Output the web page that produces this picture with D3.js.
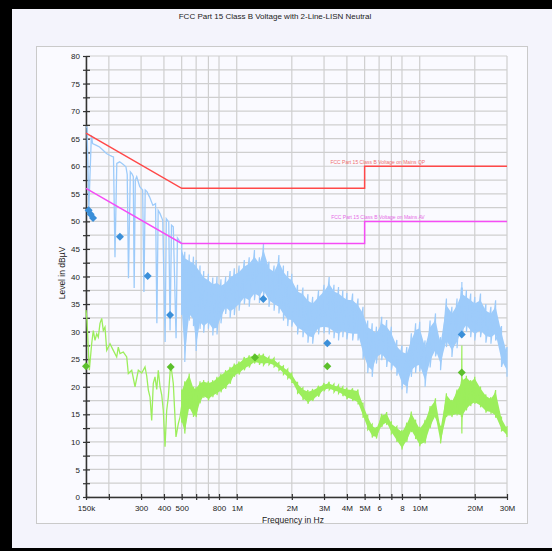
<!DOCTYPE html>
<html>
<head>
<meta charset="utf-8">
<script src="https://d3js.org/d3.v7.min.js"></script>
<style>
  body { margin: 0; background: #ffffff; }
  text { font-family: "Liberation Sans", Arial, sans-serif; }
</style>
</head>
<body>
<div id="chart"></div>
<script>
// frequencies are in MHz, levels in dBuV

var xTickFreqs = [0.15, 0.2, 0.3, 0.4, 0.5, 0.6, 0.7, 0.8, 1, 2, 3, 4, 5, 6, 7, 8, 10, 20, 30];
var xTickLabels = ["150k", "", "300", "400", "500", "", "", "800", "1M", "2M", "3M", "4M", "5M", "6", "", "8", "10M", "20M", "30M"];
var yTickValues = [0, 5, 10, 15, 20, 25, 30, 35, 40, 45, 50, 55, 60, 65, 70, 75, 80];

// limit lines
var qpFreq = [0.15, 0.5, 5, 5, 30];
var qpLevel = [66, 56, 56, 60, 60];
var avFreq = [0.15, 0.5, 5, 5, 30];
var avLevel = [56, 46, 46, 50, 50];

// peak trace below 500 kHz (single line with deep drop-outs)
var peakLowFreq = [0.150, 0.152, 0.1555, 0.1605, 0.163, 0.171, 0.178, 0.186, 0.194, 0.202, 0.208, 0.212, 0.216, 0.221,
  0.229, 0.238, 0.248, 0.252, 0.256, 0.262, 0.268, 0.272, 0.275, 0.279, 0.284, 0.295, 0.306, 0.311, 0.316, 0.323, 0.334,
  0.348, 0.360, 0.366, 0.372, 0.381, 0.394, 0.406, 0.412, 0.425, 0.432, 0.440, 0.450, 0.466, 0.474, 0.490, 0.500];
var peakLowLevel = [67.2, 67.0, 52.4, 65.6, 64.1, 63.8, 63.5, 62.9, 62.3, 62.0, 61.8, 61.7, 43.5, 60.5,
  60.8, 60.4, 59.9, 58.5, 39.7, 59.0, 58.6, 58.1, 37.9, 57.5, 58.1, 56.3, 55.7, 37.2, 55.7, 55.4, 54.4,
  52.9, 53.2, 31.5, 52.0, 51.4, 50.2, 28.1, 50.5, 49.9, 30.2, 49.3, 49.0, 28.8, 47.0, 46.3, 46.0];

// average trace below 500 kHz
var avgLowFreq = [0.150, 0.1519, 0.1564, 0.1611, 0.1644, 0.168, 0.1716, 0.1751, 0.1789, 0.1828, 0.1865, 0.1905, 0.1947,
  0.2029, 0.2115, 0.2207, 0.2252, 0.2301, 0.2399, 0.2504, 0.2555, 0.2667, 0.278, 0.2898, 0.3025, 0.3152, 0.322, 0.3287,
  0.3358, 0.3429, 0.3499, 0.3575, 0.3653, 0.3726, 0.3808, 0.3891, 0.3968, 0.4056, 0.4141, 0.4226, 0.4355, 0.45, 0.4655,
  0.4794, 0.4897, 0.500];
var avgLowLevel = [33.9, 32.0, 23.0, 27.8, 30.2, 28.4, 29.6, 29.0, 31.5, 32.4, 30.2, 30.8, 26.6,
  27.8, 26.6, 25.4, 27.2, 26.0, 26.3, 25.4, 22.4, 23.0, 20.0, 23.0, 22.5, 23.6, 22.0, 19.4,
  18.1, 13.9, 20.6, 21.8, 19.5, 23.0, 20.0, 18.5, 15.7, 9.1, 15.7, 18.1, 24.2, 20.6, 10.9,
  13.3, 14.5, 16.5];

// above 500 kHz both traces are dense sweeps: read as upper / lower edge of the band
var bandFreq = [0.5, 0.52, 0.55, 0.58, 0.6, 0.63, 0.66, 0.7, 0.74, 0.78, 0.82, 0.87, 0.92, 0.97, 1.03, 1.1, 1.17, 1.25,
  1.33, 1.4, 1.5, 1.6, 1.7, 1.8, 1.9, 2.0, 2.15, 2.3, 2.45, 2.6, 2.8, 3.0, 3.2, 3.4, 3.6, 3.8, 4.0, 4.3, 4.6, 4.9,
  5.2, 5.5, 5.8, 6.2, 6.6, 7.0, 7.5, 8.0, 8.5, 9.0, 9.5, 10, 10.7, 11.4, 12.2, 13, 14, 15, 16, 16.9, 17, 17.1, 18,
  19, 20, 21.5, 23, 24.5, 26, 28, 30];
var peakBandTop = [46, 44.5, 44, 43.6, 43, 42, 41, 40.5, 39.8, 40, 39.5, 40, 41, 41.5, 42, 43, 43.5, 44.8,
  43.5, 46, 42.7, 42, 43.9, 42, 41, 40.5, 38.5, 38, 36.8, 36.3, 37.5, 38.5, 39.9, 38.5, 38.1, 37.5, 37, 36.9, 36, 34.5,
  32, 31.5, 30.9, 32.7, 32.1, 30.9, 28.5, 27.5, 27.2, 29.7, 31.5, 31.8, 28.4, 32, 33.3, 29, 36, 34.5, 36, 38, 39, 38,
  37.5, 36.9, 36.3, 36.9, 35, 34.5, 35.7, 31, 27.2];
var peakBandBottom = [33, 24.5, 32, 31, 26.5, 30.5, 29.8, 30.5, 29.3, 29.5, 31.5, 33.2, 32.5, 33, 33.8, 35, 34.5, 35.7,
  35.2, 36.3, 34.5, 33.8, 33.3, 32, 31, 30.9, 29.5, 29, 28, 27.8, 29.5, 29.7, 29.5, 28.8, 28.4, 29, 28.6, 28.4, 28.4, 25,
  22.5, 21.8, 24.2, 24.8, 23.6, 23, 22, 19.5, 18.8, 21.8, 22.5, 22.8, 20, 23.5, 25.5, 23, 27.2, 25.4, 27, 29, 29, 29,
  30, 29, 28.4, 29, 28, 27.8, 28.4, 23.6, 21.8];
var avgBandTop = [19.5, 21, 22.4, 20, 20, 21, 21.2, 21, 21.2, 21.8, 22.4, 23, 23.6, 24.2, 24.6, 25.4, 25.7, 26,
  26, 26, 25.4, 25.2, 24.4, 23.8, 23.2, 22.5, 20.8, 19.8, 19.4, 19.6, 20.2, 20.7, 20.9, 20.5, 20.3, 20, 19.8, 19.7, 19.5, 17,
  14.8, 13.2, 12.7, 15.1, 15.4, 13.6, 12.8, 12.1, 13.5, 15.5, 14, 12.7, 14, 16.5, 17.9, 12.7, 18.8, 17.6, 19.5, 21, 27.5, 21.5,
  22, 21.2, 21.8, 20, 18.6, 18.1, 19.4, 14.5, 12.7];
var avgBandBottom = [13.5, 11.5, 16, 14.5, 14.5, 17, 18, 17.5, 18.1, 18.5, 19, 19.6, 20.5, 21.8, 22.2, 23, 23.5, 24.2,
  24, 23.9, 24, 23.6, 23, 22.2, 21.5, 20.8, 18.8, 17.6, 16.9, 17.4, 18.2, 19.2, 19.4, 19, 18.8, 18.3, 17.8, 17.4, 16.9, 14.5,
  12.2, 10.8, 10.6, 12.7, 13.2, 11.5, 10, 8.6, 10, 11.8, 10.5, 9.2, 9.7, 12.5, 14.5, 9.7, 14.5, 14.5, 14.8, 14.5, 11.5, 14.5,
  15.7, 16.5, 16.9, 16.3, 15.3, 15.1, 14.5, 12, 10.9];

// final measurement markers
var qpMarkFreq = [0.155, 0.159, 0.164, 0.230, 0.326, 0.432, 1.397, 3.126, 16.97];
var qpMarkLevel = [52.0, 51.3, 50.6, 47.2, 40.1, 33.0, 35.9, 27.9, 29.5];
var avMarkFreq = [0.150, 0.4355, 1.258, 3.126, 16.97];
var avMarkLevel = [23.7, 23.6, 25.3, 23.7, 22.6];

var svgWidth = 552;
var svgHeight = 551;
var plot = { left: 86, right: 507, top: 56, bottom: 497 };

var svg = d3.select("#chart")
  .append("svg")
  .attr("width", svgWidth)
  .attr("height", svgHeight);

// page background and the black frame
svg.append("rect").attr("width", svgWidth).attr("height", svgHeight).attr("fill", "#f4f4fc");
svg.append("rect").attr("x", 36.5).attr("y", 46.5).attr("width", 491).attr("height", 477)
  .attr("fill", "#fafaff").attr("stroke", "#cacaca").attr("stroke-width", 1);
svg.append("rect").attr("x", 0).attr("y", 0).attr("width", svgWidth).attr("height", 9).attr("fill", "#000");
svg.append("rect").attr("x", 0).attr("y", 0).attr("width", 12).attr("height", svgHeight).attr("fill", "#000");
svg.append("rect").attr("x", 0).attr("y", 548).attr("width", svgWidth).attr("height", 3).attr("fill", "#000");

var x = d3.scaleLog().domain([0.15, 30]).range([plot.left, plot.right]);
var y = d3.scaleLinear().domain([0, 80]).range([plot.bottom, plot.top]);

// grid
var grid = svg.append("g");
grid.selectAll("line.h")
  .data(d3.range(0, 80.1, 2.5))
  .enter().append("line")
  .attr("x1", plot.left).attr("x2", plot.right)
  .attr("y1", d => y(d)).attr("y2", d => y(d))
  .attr("stroke", "#cfcfcf").attr("stroke-width", 1.2);
grid.selectAll("line.v")
  .data(xTickFreqs)
  .enter().append("line")
  .attr("x1", d => x(d)).attr("x2", d => x(d))
  .attr("y1", plot.top).attr("y2", plot.bottom)
  .attr("stroke", "#cfcfcf").attr("stroke-width", 1.2);

// axes
var leftAxis = d3.axisLeft(y)
  .tickValues(d3.range(0, 80.1, 2.5))
  .tickFormat(d => yTickValues.indexOf(d) >= 0 ? d : "")
  .tickSize(3).tickSizeOuter(0).tickPadding(3);
var bottomAxis = d3.axisBottom(x)
  .tickValues(xTickFreqs)
  .tickFormat((d, i) => xTickLabels[i])
  .tickSize(3).tickSizeOuter(0).tickPadding(5);

var yAxis = svg.append("g")
  .attr("transform", `translate(${plot.left}, 0)`)
  .call(leftAxis);
yAxis.selectAll(".tick line").attr("x1", 4);

var xAxis = svg.append("g")
  .attr("transform", `translate(0, ${plot.bottom})`)
  .call(bottomAxis);
xAxis.selectAll(".tick line").attr("y1", -3);

[yAxis, xAxis].forEach(function(ax) {
  ax.select(".domain").attr("stroke", "#333").attr("stroke-width", 1.5);
  ax.selectAll(".tick line").attr("stroke", "#333").attr("stroke-width", 1.2);
  ax.selectAll("text").attr("fill", "#222").style("font-size", "8px")
    .style("font-family", "'Liberation Sans', Arial, sans-serif");
});

// traces
var line = d3.line().x(d => x(d[0])).y(d => y(d[1]));
var band = d3.area().x(d => x(d[0])).y0(d => y(d[1])).y1(d => y(d[2]));

var peakColor = "#9dcbfa";
var avgColor = "#9cee5c";

// the filled core sits a little inside the read edges; the sweep strokes reach the edges
function drawBand(top, bottom, color, inset) {
  var core = bandFreq.map((f, i) => [f, Math.min(bottom[i] + inset, (top[i] + bottom[i]) / 2 - 0.4),
    Math.max(top[i] - inset, (top[i] + bottom[i]) / 2 + 0.4)]);
  svg.append("path").datum(core).attr("d", band).attr("fill", color);
  var sweep = [];
  bandFreq.forEach(function(f, i) {
    sweep.push([f, top[i]]);
    sweep.push([f, bottom[i]]);
  });
  svg.append("path").datum(sweep).attr("d", line)
    .attr("fill", "none").attr("stroke", color).attr("stroke-width", 1.2);
}

drawBand(peakBandTop, peakBandBottom, peakColor, 1.2);
svg.append("path").datum(peakLowFreq.map((f, i) => [f, peakLowLevel[i]])).attr("d", line)
  .attr("fill", "none").attr("stroke", peakColor).attr("stroke-width", 1.3);

drawBand(avgBandTop, avgBandBottom, avgColor, 0.3);
svg.append("path").datum(avgLowFreq.map((f, i) => [f, avgLowLevel[i]])).attr("d", line)
  .attr("fill", "none").attr("stroke", avgColor).attr("stroke-width", 1.3);

// limit lines
svg.append("path").datum(qpFreq.map((f, i) => [f, qpLevel[i]])).attr("d", line)
  .attr("fill", "none").attr("stroke", "#ff4848").attr("stroke-width", 1.5);
svg.append("path").datum(avFreq.map((f, i) => [f, avLevel[i]])).attr("d", line)
  .attr("fill", "none").attr("stroke", "#f54cf5").attr("stroke-width", 1.5);

svg.append("text")
  .attr("x", x(3.25)).attr("y", y(qpLevel[3]) - 2)
  .attr("fill", "#f07070").style("font-size", "5px")
  .text("FCC Part 15 Class B Voltage on Mains QP");
svg.append("text")
  .attr("x", x(3.28)).attr("y", y(avLevel[3]) - 2)
  .attr("fill", "#e66be6").style("font-size", "5px")
  .text("FCC Part 15 Class B Voltage on Mains AV");

// markers
var diamond = "M0,-4L4,0L0,4L-4,0Z";
svg.selectAll("path.qp")
  .data(qpMarkFreq)
  .enter().append("path")
  .attr("d", diamond)
  .attr("transform", (d, i) => `translate(${x(d)}, ${y(qpMarkLevel[i])})`)
  .attr("fill", "#3b8fd9");
svg.selectAll("path.av")
  .data(avMarkFreq)
  .enter().append("path")
  .attr("d", diamond)
  .attr("transform", (d, i) => `translate(${x(d)}, ${y(avMarkLevel[i])})`)
  .attr("fill", "#5cbf2c");

// titles
svg.append("text")
  .attr("x", 275).attr("y", 19)
  .attr("text-anchor", "middle")
  .attr("fill", "#222").style("font-size", "8px")
  .text("FCC Part 15 Class B Voltage with 2-Line-LISN Neutral");

svg.append("text")
  .attr("x", 262).attr("y", 523)
  .attr("fill", "#222").style("font-size", "8.5px")
  .text("Frequency in Hz");

svg.append("text")
  .attr("transform", "rotate(-90)")
  .attr("x", -273).attr("y", 65)
  .attr("text-anchor", "middle")
  .attr("fill", "#222").style("font-size", "8.5px")
  .text("Level in dBµV");
</script>
</body>
</html>
